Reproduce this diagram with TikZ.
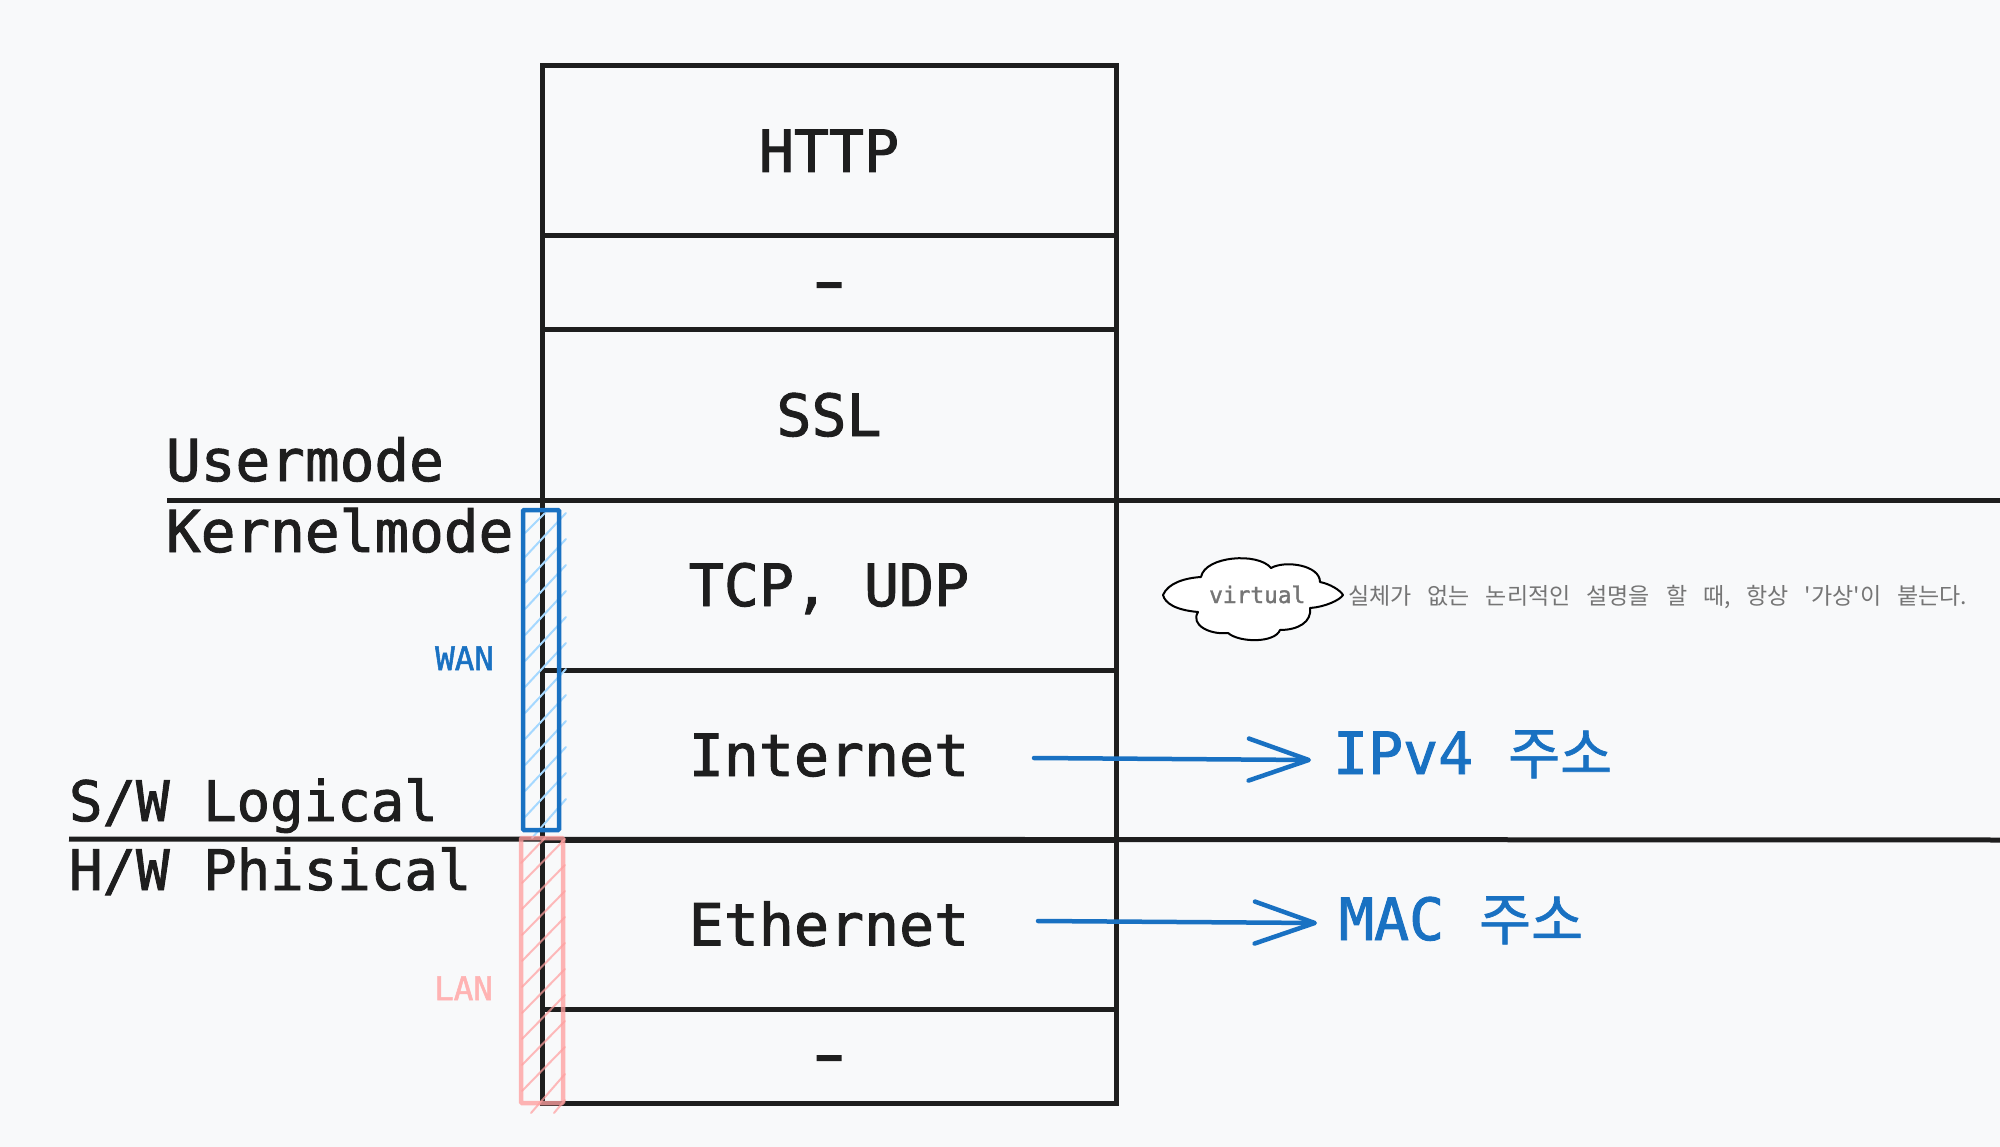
\documentclass[tikz,border=0pt]{standalone}
\usepackage{fontspec}
\usetikzlibrary{arrows.meta}
\setmainfont[FakeBold=1.6]{DejaVu Sans Mono}
\newfontfamily\dashfam[FakeStretch=1.6,FakeBold=2.2]{DejaVu Sans Mono}
\newfontfamily\krbig[FakeBold=1.2]{Noto Sans CJK KR}
\newfontfamily\krsmall[WordSpace=3.1]{Noto Sans CJK KR}
\definecolor{inkc}{HTML}{1E1E1E}
\definecolor{bluec}{HTML}{1971C2}
\definecolor{hatchb}{HTML}{A5D8FF}
\definecolor{pinkc}{HTML}{FFA0A0}
\definecolor{lanc}{HTML}{FFB3B3}
\definecolor{bgc}{HTML}{F8F9FA}
\definecolor{grayc}{HTML}{757575}
\newcommand{\bigf}{\fontsize{58.2}{60}\selectfont}
\newcommand{\modef}{\fontsize{57.7}{60}\selectfont}
\newcommand{\sidef}{\fontsize{55.7}{60}\selectfont}
\tikzset{
  layer/.style={draw=inkc,line width=5pt,anchor=north west,minimum width=574pt,inner sep=0pt,outer sep=0pt,
    text=inkc,align=center,font=\bigf,text height=49pt,text depth=7pt},
  dashlayer/.style={layer,font=\dashfam\bigf,text height=39pt,text depth=3pt},
  sidelabel/.style={anchor=base west,inner sep=0pt,outer sep=0pt,text=inkc,font=\modef},
  sidelabelb/.style={sidelabel,font=\sidef},
  rule/.style={draw=inkc,line width=5pt},
  wanbox/.style={draw=bluec,line width=4.5pt,rounded corners=1pt,anchor=north west,inner sep=0pt,outer sep=0pt,minimum width=36pt,minimum height=320pt},
  lanbox/.style={draw=pinkc,draw opacity=.78,line width=4.5pt,rounded corners=1pt,anchor=north west,inner sep=0pt,outer sep=0pt,minimum width=42pt,minimum height=265pt},
  hatchblue/.style={draw=hatchb,line width=2pt,line cap=round},
  hatchpink/.style={draw=pinkc,draw opacity=.72,line width=2pt,line cap=round},
  pointer/.style={draw=bluec,line width=4.5pt,line cap=round,-{Straight Barb[length=60pt,width=42pt,line width=4.5pt,round]}},
  addr/.style={anchor=base west,inner sep=0pt,outer sep=0pt,text=bluec,font=\bigf},
}
\begin{document}
\begin{tikzpicture}[x=1pt,y=-1pt]
\useasboundingbox (0,0) rectangle (2000,1147);
\fill[bgc] (0,0) rectangle (2000,1147);

% protocol stack
\node[layer,minimum height=170pt] (http) at (542,66) {HTTP};
\node[dashlayer,minimum height=94pt] (dashtop) at (542,236) {-};
\node[layer,minimum height=170pt] (ssl) at (542,330) {SSL};
\node[layer,minimum height=170pt] (tcp) at (542,500) {TCP, UDP};
\node[layer,minimum height=170pt] (internet) at (542,670) {Internet};
\node[layer,minimum height=169pt] (ethernet) at (542,840) {Ethernet};
\node[dashlayer,minimum height=94pt] (dashbot) at (542,1009) {-};

% dividing rules
\coordinate (userL) at (167,500);
\coordinate (userR) at (2000,500);
\coordinate (swL) at (69,839);
\coordinate (swR) at (2000,840);
\draw[rule] (userL) -- (userR);
\draw[rule] (swL) -- (swR);

% side labels
\node[sidelabel] (usermode) at (166,481) {Usermode};
\node[sidelabel] (kernelmode) at (166,552) {Kernelmode};
\node[sidelabelb] (logical) at (69,821) {S/W Logical};
\node[sidelabelb] (physical) at (69,890) {H/W Phisical};

% WAN bracket
\foreach \k in {0,...,10}{
  \draw[hatchblue] (566,{513+26*\k}) -- (525,{557+26*\k});
}
\draw[hatchblue] (545,513) -- (525,533);
\draw[hatchblue] (566,799) -- (532,838);
\node[wanbox] (wan) at (523,510) {};
\node[anchor=base west,inner sep=0pt,text=bluec,font=\fontsize{32.5}{34}\selectfont] (wanlabel) at (435,670) {WAN};

% LAN bracket
\foreach \k in {0,...,8}{
  \draw[hatchpink] (565,{839+26*\k}) -- (522,{883+26*\k});
}
\draw[hatchpink] (545,838) -- (521,863);
\draw[hatchpink] (565,1074) -- (531,1113);
\draw[hatchpink] (565,1100) -- (554,1113);
\node[lanbox] (lan) at (521,838) {};
\node[anchor=base west,inner sep=0pt,text=lanc,font=\fontsize{32.5}{34}\selectfont] (lanlabel) at (434,1000) {LAN};

% arrows and address labels
\coordinate (ipfrom) at (1034,758);
\coordinate (ipto) at (1311,760);
\coordinate (macfrom) at (1038,921);
\coordinate (macto) at (1317,923);
\draw[pointer] (ipfrom) -- (ipto);
\draw[pointer] (macfrom) -- (macto);
\node[addr] (ipv4) at (1333,774) {IPv4 {\krbig\fontsize{56.5}{60}\selectfont 주소}};
\node[addr] (mac) at (1339,940) {MAC {\krbig\fontsize{56.5}{60}\selectfont 주소}};

% virtual cloud
\draw[draw=black,line width=2pt,fill=white,line join=round]
  (1163,595) .. controls (1168,583) and (1185,578) .. (1201,577)
  .. controls (1205,556) and (1258,552) .. (1271,568)
  .. controls (1285,560) and (1320,565) .. (1320,582)
  .. controls (1330,584) and (1340,590) .. (1343,595)
  .. controls (1340,600) and (1325,607) .. (1310,608)
  .. controls (1312,622) and (1298,630) .. (1280,630)
  .. controls (1275,643) and (1240,643) .. (1228,633)
  .. controls (1210,635) and (1190,625) .. (1198,612)
  .. controls (1175,610) and (1165,603) .. (1163,595) -- cycle;
\node[anchor=base west,inner sep=0pt,text=grayc,font=\fontsize{22.8}{24}\selectfont] (virtual) at (1209,603) {virtual};
\node[anchor=base west,inner sep=0pt,text=grayc,font=\krsmall\fontsize{23}{24}\selectfont] (note) at (1348,604) {실체가 없는 논리적인 설명을 할 때, 항상 '가상'이 붙는다.};
\end{tikzpicture}
\end{document}
